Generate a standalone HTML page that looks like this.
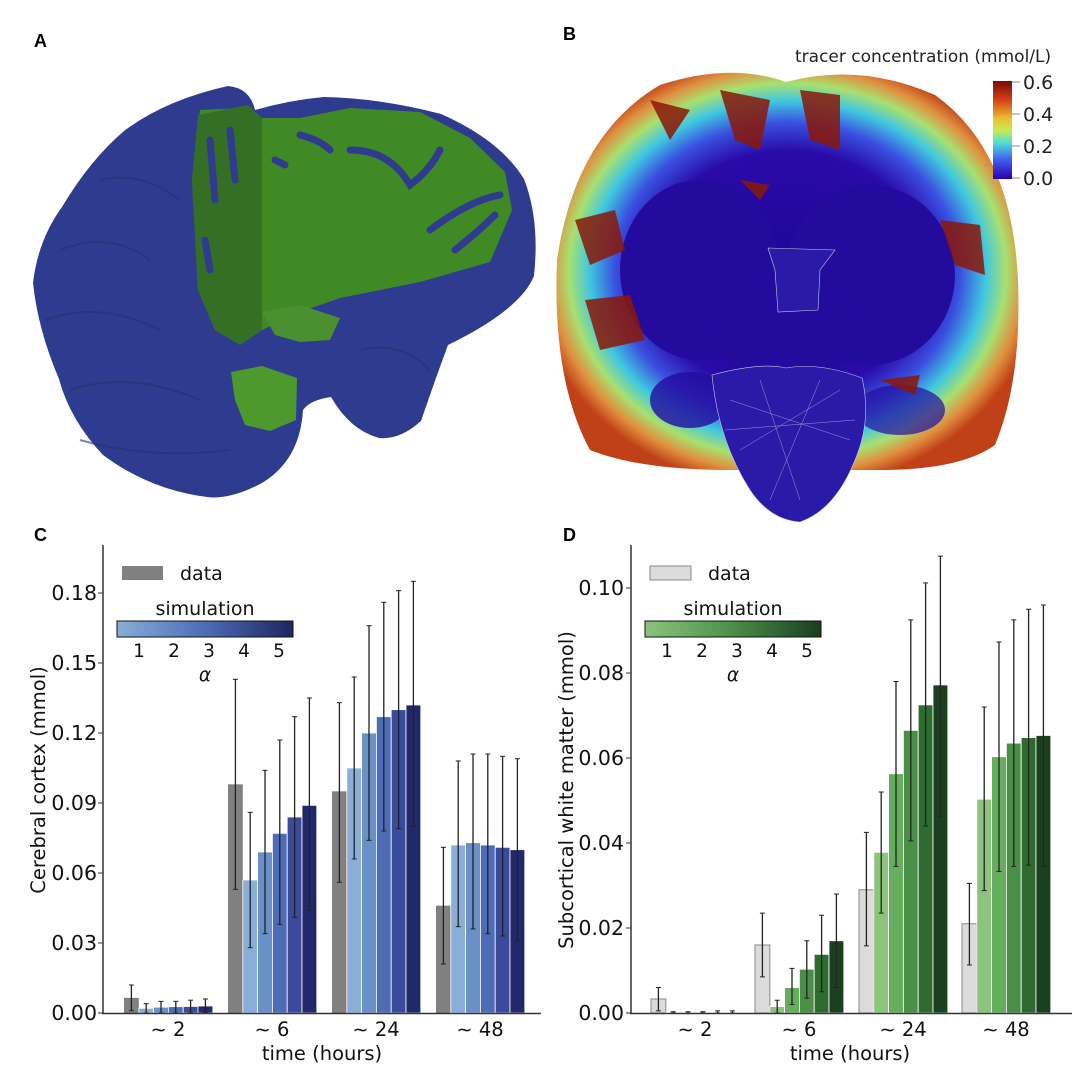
<!DOCTYPE html>
<html><head><meta charset="utf-8"><style>
html,body{margin:0;padding:0;background:#fff;}
svg{display:block;font-family:"DejaVu Sans","Liberation Sans",sans-serif;}
</style></head><body>
<svg id="s" width="1080" height="1080" viewBox="0 0 1080 1080" xmlns="http://www.w3.org/2000/svg">
<defs>
<linearGradient id="cb" x1="0" y1="0" x2="0" y2="1">
<stop offset="0" stop-color="#7a0a00"/><stop offset="0.2" stop-color="#d5441a"/><stop offset="0.38" stop-color="#e8c030"/><stop offset="0.5" stop-color="#c8ec50"/><stop offset="0.63" stop-color="#50e0d0"/><stop offset="0.8" stop-color="#4060f0"/><stop offset="1" stop-color="#2800b0"/>
</linearGradient>
<linearGradient id="bl" x1="0" x2="1"><stop offset="0" stop-color="#8aaed8"/><stop offset="0.5" stop-color="#4d6cb8"/><stop offset="1" stop-color="#1f265f"/></linearGradient>
<linearGradient id="gr" x1="0" x2="1"><stop offset="0" stop-color="#8cc47e"/><stop offset="0.5" stop-color="#4a8f48"/><stop offset="1" stop-color="#1a3d1e"/></linearGradient>
<radialGradient id="heat" cx="0.5" cy="0.5" r="0.55">
<stop offset="0" stop-color="#1e0696"/><stop offset="0.55" stop-color="#2a0aa8"/><stop offset="0.68" stop-color="#3a50e0"/><stop offset="0.78" stop-color="#40c8e0"/><stop offset="0.86" stop-color="#a8e070"/><stop offset="0.93" stop-color="#e09040"/><stop offset="1" stop-color="#c04018"/>
</radialGradient>
</defs>

<text x="34" y="47" font-size="18" font-weight="bold" font-family="Liberation Sans,sans-serif">A</text>
<text x="563" y="40" font-size="18" font-weight="bold" font-family="Liberation Sans,sans-serif">B</text>
<text x="34" y="541" font-size="18" font-weight="bold" font-family="Liberation Sans,sans-serif">C</text>
<text x="563" y="541" font-size="18" font-weight="bold" font-family="Liberation Sans,sans-serif">D</text>

<path fill="#2f3b8f" d="M228,86 Q250,88 255,110 Q290,100 324,97 Q380,98 441,114 Q500,140 524,179 Q540,220 534,276 Q520,310 448,345 Q435,380 421,421 Q400,440 379,438 Q350,430 331,397 Q310,400 303,410 Q300,460 262,483 Q230,500 207,497 Q150,490 103,455 Q70,420 59,379 Q38,330 33,283 Q38,240 62,207 Q90,160 124,131 Q165,100 228,86 Z"/>
<polygon fill="#3f8a25" points="200,110 240,108 262,118 300,118 350,108 420,112 470,138 505,172 512,210 490,262 420,282 340,298 300,312 262,330 240,345 215,330 198,290 192,180"/>
<polygon fill="#356f25" points="198,115 248,105 262,118 262,330 240,345 215,330 198,290 192,180"/>
<g fill="none" stroke="#2f3b8f" stroke-width="7" stroke-linecap="round">
<path d="M300,135 Q320,140 330,150"/>
<path d="M350,150 Q390,150 410,185 Q430,170 440,150"/>
<path d="M430,230 Q470,200 500,195"/>
<path d="M455,250 Q480,230 495,215"/>
<path d="M275,160 L285,165"/>
<path d="M210,140 L215,200"/>
<path d="M230,130 L235,180"/>
<path d="M205,240 L210,270"/>
</g>
<polygon fill="#4c9a2e" points="231,372 262,366 297,378 296,420 270,431 245,425 235,400"/>
<polygon fill="#4a9030" points="262,312 300,305 340,318 330,340 300,342 275,335"/>
<g fill="none" stroke="#25306f" stroke-width="2" opacity="0.6">
<path d="M60,250 Q110,230 150,260"/><path d="M45,320 Q100,300 160,330"/><path d="M70,390 Q130,370 200,400"/><path d="M100,180 Q140,170 180,200"/><path d="M80,440 Q150,460 230,450"/><path d="M360,350 Q400,340 430,370"/>
</g>

<path fill="url(#heat)" d="M786,82 Q730,62 660,85 Q575,135 557,260 Q552,380 590,450 Q640,470 730,470 L880,470 Q960,470 995,445 Q1022,380 1018,280 Q1012,150 935,95 Q860,62 786,82 Z"/>
<g fill="#230b9e">
<ellipse cx="700" cy="270" rx="80" ry="90"/>
<ellipse cx="870" cy="275" rx="85" ry="90"/>
<ellipse cx="786" cy="330" rx="70" ry="60"/>
<ellipse cx="690" cy="400" rx="40" ry="28" opacity="0.8"/>
<ellipse cx="900" cy="410" rx="45" ry="25" opacity="0.7"/>
</g>
<g fill="#8a1808" opacity="0.85">
<polygon points="575,220 615,210 625,250 590,265"/>
<polygon points="585,300 630,295 645,340 600,350"/>
<polygon points="720,90 770,100 760,150 735,140"/>
<polygon points="800,90 840,95 840,150 810,140"/>
<polygon points="650,100 690,110 670,140"/>
<polygon points="940,220 980,225 985,275 955,265"/>
<polygon points="880,380 920,375 915,395"/>
<polygon points="740,180 770,185 760,200"/>
</g>
<g fill="#2a1aa8" stroke="#c8c8e8" stroke-width="0.6">
<path d="M768,248 L835,250 L820,270 L818,310 L778,312 L775,270 Z"/>
<path d="M712,375 Q760,362 786,368 Q820,362 862,378 Q872,420 855,460 Q835,510 800,522 Q770,520 750,490 Q718,440 712,375 Z"/>
</g>
<g stroke="#e8e8f8" stroke-width="0.5" opacity="0.6">
<path d="M730,400 L850,440 M740,450 L840,390 M760,380 L800,500 M820,380 L770,500 M725,430 L855,420"/>
</g>
<text x="795" y="62" font-size="17" fill="#222">tracer concentration (mmol/L)</text>
<rect x="993" y="81" width="19" height="98" fill="url(#cb)"/>
<g stroke="#888" stroke-width="1"><line x1="1012" y1="82" x2="1020" y2="82"/><line x1="1012" y1="114" x2="1020" y2="114"/><line x1="1012" y1="146" x2="1020" y2="146"/><line x1="1012" y1="178" x2="1020" y2="178"/></g>
<g font-size="19" fill="#222"><text x="1023" y="89">0.6</text><text x="1023" y="121">0.4</text><text x="1023" y="153">0.2</text><text x="1023" y="185">0.0</text></g>

<g id="barsC"></g>
<line x1="103" y1="545" x2="103" y2="1014" stroke="#333" stroke-width="1.5"/>
<line x1="102" y1="1013.5" x2="541" y2="1013.5" stroke="#333" stroke-width="1.5"/>
<g stroke="#333" stroke-width="1"><line x1="98" y1="593" x2="103" y2="593"/><line x1="98" y1="663" x2="103" y2="663"/><line x1="98" y1="733" x2="103" y2="733"/><line x1="98" y1="803" x2="103" y2="803"/><line x1="98" y1="873" x2="103" y2="873"/><line x1="98" y1="943" x2="103" y2="943"/><line x1="98" y1="1013" x2="103" y2="1013"/></g>
<g font-size="20.5" fill="#111" text-anchor="end">
<text x="97" y="600">0.18</text><text x="97" y="670">0.15</text><text x="97" y="740">0.12</text><text x="97" y="810">0.09</text><text x="97" y="880">0.06</text><text x="97" y="950">0.03</text><text x="97" y="1020">0.00</text>
</g>
<g font-size="19.5" fill="#111" text-anchor="middle">
<text x="168" y="1036">∼ 2</text><text x="272" y="1036">∼ 6</text><text x="376" y="1036">∼ 24</text><text x="480" y="1036">∼ 48</text>
<text x="322" y="1060">time (hours)</text>
</g>
<text transform="translate(45,780) rotate(-90)" font-size="19.5" fill="#111" text-anchor="middle">Cerebral cortex (mmol)</text>
<rect x="122" y="566" width="41" height="14" fill="#808080"/>
<text x="180" y="580" font-size="19" fill="#111">data</text>
<text x="205" y="615" font-size="19" fill="#111" text-anchor="middle">simulation</text>
<rect x="117" y="621" width="176" height="16" fill="url(#bl)" stroke="#111" stroke-width="1"/>
<g font-size="18.5" fill="#111" text-anchor="middle"><text x="139" y="657">1</text><text x="174" y="657">2</text><text x="209" y="657">3</text><text x="244" y="657">4</text><text x="279" y="657">5</text><text x="205" y="681" font-style="italic">α</text></g>

<g id="barsD"></g>
<line x1="631" y1="545" x2="631" y2="1014" stroke="#333" stroke-width="1.5"/>
<line x1="630" y1="1013.5" x2="1072" y2="1013.5" stroke="#333" stroke-width="1.5"/>
<g stroke="#333" stroke-width="1"><line x1="626" y1="588" x2="631" y2="588"/><line x1="626" y1="673" x2="631" y2="673"/><line x1="626" y1="758" x2="631" y2="758"/><line x1="626" y1="843" x2="631" y2="843"/><line x1="626" y1="928" x2="631" y2="928"/><line x1="626" y1="1013" x2="631" y2="1013"/></g>
<g font-size="20.5" fill="#111" text-anchor="end">
<text x="624" y="595">0.10</text><text x="624" y="680">0.08</text><text x="624" y="765">0.06</text><text x="624" y="850">0.04</text><text x="624" y="935">0.02</text><text x="624" y="1020">0.00</text>
</g>
<g font-size="19.5" fill="#111" text-anchor="middle">
<text x="695" y="1036">∼ 2</text><text x="799" y="1036">∼ 6</text><text x="903" y="1036">∼ 24</text><text x="1006" y="1036">∼ 48</text>
<text x="850" y="1060">time (hours)</text>
</g>
<text transform="translate(573,790) rotate(-90)" font-size="19.5" fill="#111" text-anchor="middle">Subcortical white matter (mmol)</text>
<rect x="650" y="566" width="41" height="14" fill="#dcdcdc" stroke="#888" stroke-width="1"/>
<text x="708" y="580" font-size="19" fill="#111">data</text>
<text x="733" y="615" font-size="19" fill="#111" text-anchor="middle">simulation</text>
<rect x="645" y="621" width="176" height="16" fill="url(#gr)" stroke="#111" stroke-width="1"/>
<g font-size="18.5" fill="#111" text-anchor="middle"><text x="667" y="657">1</text><text x="702" y="657">2</text><text x="737" y="657">3</text><text x="772" y="657">4</text><text x="807" y="657">5</text><text x="733" y="681" font-style="italic">α</text></g>

<script>
(function(){
var NS="http://www.w3.org/2000/svg";
function el(p,t,a){var e=document.createElementNS(NS,t);for(var k in a)e.setAttribute(k,a[k]);p.appendChild(e);return e;}
function draw(id,x0s,pps,vals,cols,dataStroke){
  var g=document.getElementById(id),w=14.8;
  for(var i=0;i<4;i++)for(var j=0;j<6;j++){
    var v=vals[i][j],x=x0s[i]+j*w,y=1013-v[0]*pps;
    var a={x:x,y:y,width:w,height:1013-y,fill:cols[j],stroke:"#fff","stroke-width":0.8};
    if(j==0&&dataStroke){a.stroke="#888";a["stroke-width"]=1;}
    if(j==0&&!dataStroke){a.stroke="none";}
    el(g,"rect",a);
    var cx=x+w/2,t=1013-v[2]*pps,b=1013-v[1]*pps;
    el(g,"line",{x1:cx,y1:t,x2:cx,y2:b,stroke:"#222","stroke-width":1.3});
    el(g,"line",{x1:cx-2.5,y1:t,x2:cx+2.5,y2:t,stroke:"#222","stroke-width":1});
    el(g,"line",{x1:cx-2.5,y1:b,x2:cx+2.5,y2:b,stroke:"#222","stroke-width":1});
  }
}
draw("barsC",[124,228,332,436],70/0.03,[
 [[0.0065,0.001,0.012],[0.002,0,0.004],[0.0025,0,0.005],[0.0027,0,0.005],[0.0028,0,0.0055],[0.003,0,0.006]],
 [[0.098,0.053,0.143],[0.057,0.028,0.086],[0.069,0.034,0.104],[0.077,0.038,0.117],[0.084,0.041,0.127],[0.089,0.044,0.135]],
 [[0.095,0.056,0.133],[0.105,0.066,0.144],[0.120,0.074,0.166],[0.127,0.078,0.176],[0.130,0.079,0.181],[0.132,0.080,0.185]],
 [[0.046,0.021,0.071],[0.072,0.037,0.108],[0.073,0.036,0.111],[0.072,0.034,0.111],[0.071,0.033,0.110],[0.070,0.031,0.109]]
],["#808080","#8aaed8","#6a90c8","#4d6cb5","#3a4a9c","#22296a"],false);
draw("barsD",[651,755,859,962],85/0.02,[
 [[0.0033,0.0005,0.006],[0.0001,0,0.0003],[0.0001,0,0.0003],[0.0001,0,0.0003],[0.0001,0,0.0005],[0.0001,0,0.0005]],
 [[0.016,0.0085,0.0235],[0.0015,0,0.003],[0.006,0.002,0.0105],[0.0103,0.0035,0.017],[0.0138,0.005,0.023],[0.017,0.006,0.028]],
 [[0.029,0.0158,0.0425],[0.0378,0.0235,0.052],[0.0563,0.0345,0.078],[0.0665,0.0405,0.0925],[0.0725,0.044,0.1012],[0.0772,0.0463,0.1075]],
 [[0.021,0.0113,0.0305],[0.0503,0.0288,0.072],[0.0603,0.0333,0.0873],[0.0635,0.0345,0.0925],[0.0648,0.0348,0.095],[0.0653,0.0345,0.096]]
],["#dcdcdc","#8cc47e","#66ad5e","#4a8f48","#2f6b31","#1b4020"],true);
})();
</script>
</svg>
</body></html>
